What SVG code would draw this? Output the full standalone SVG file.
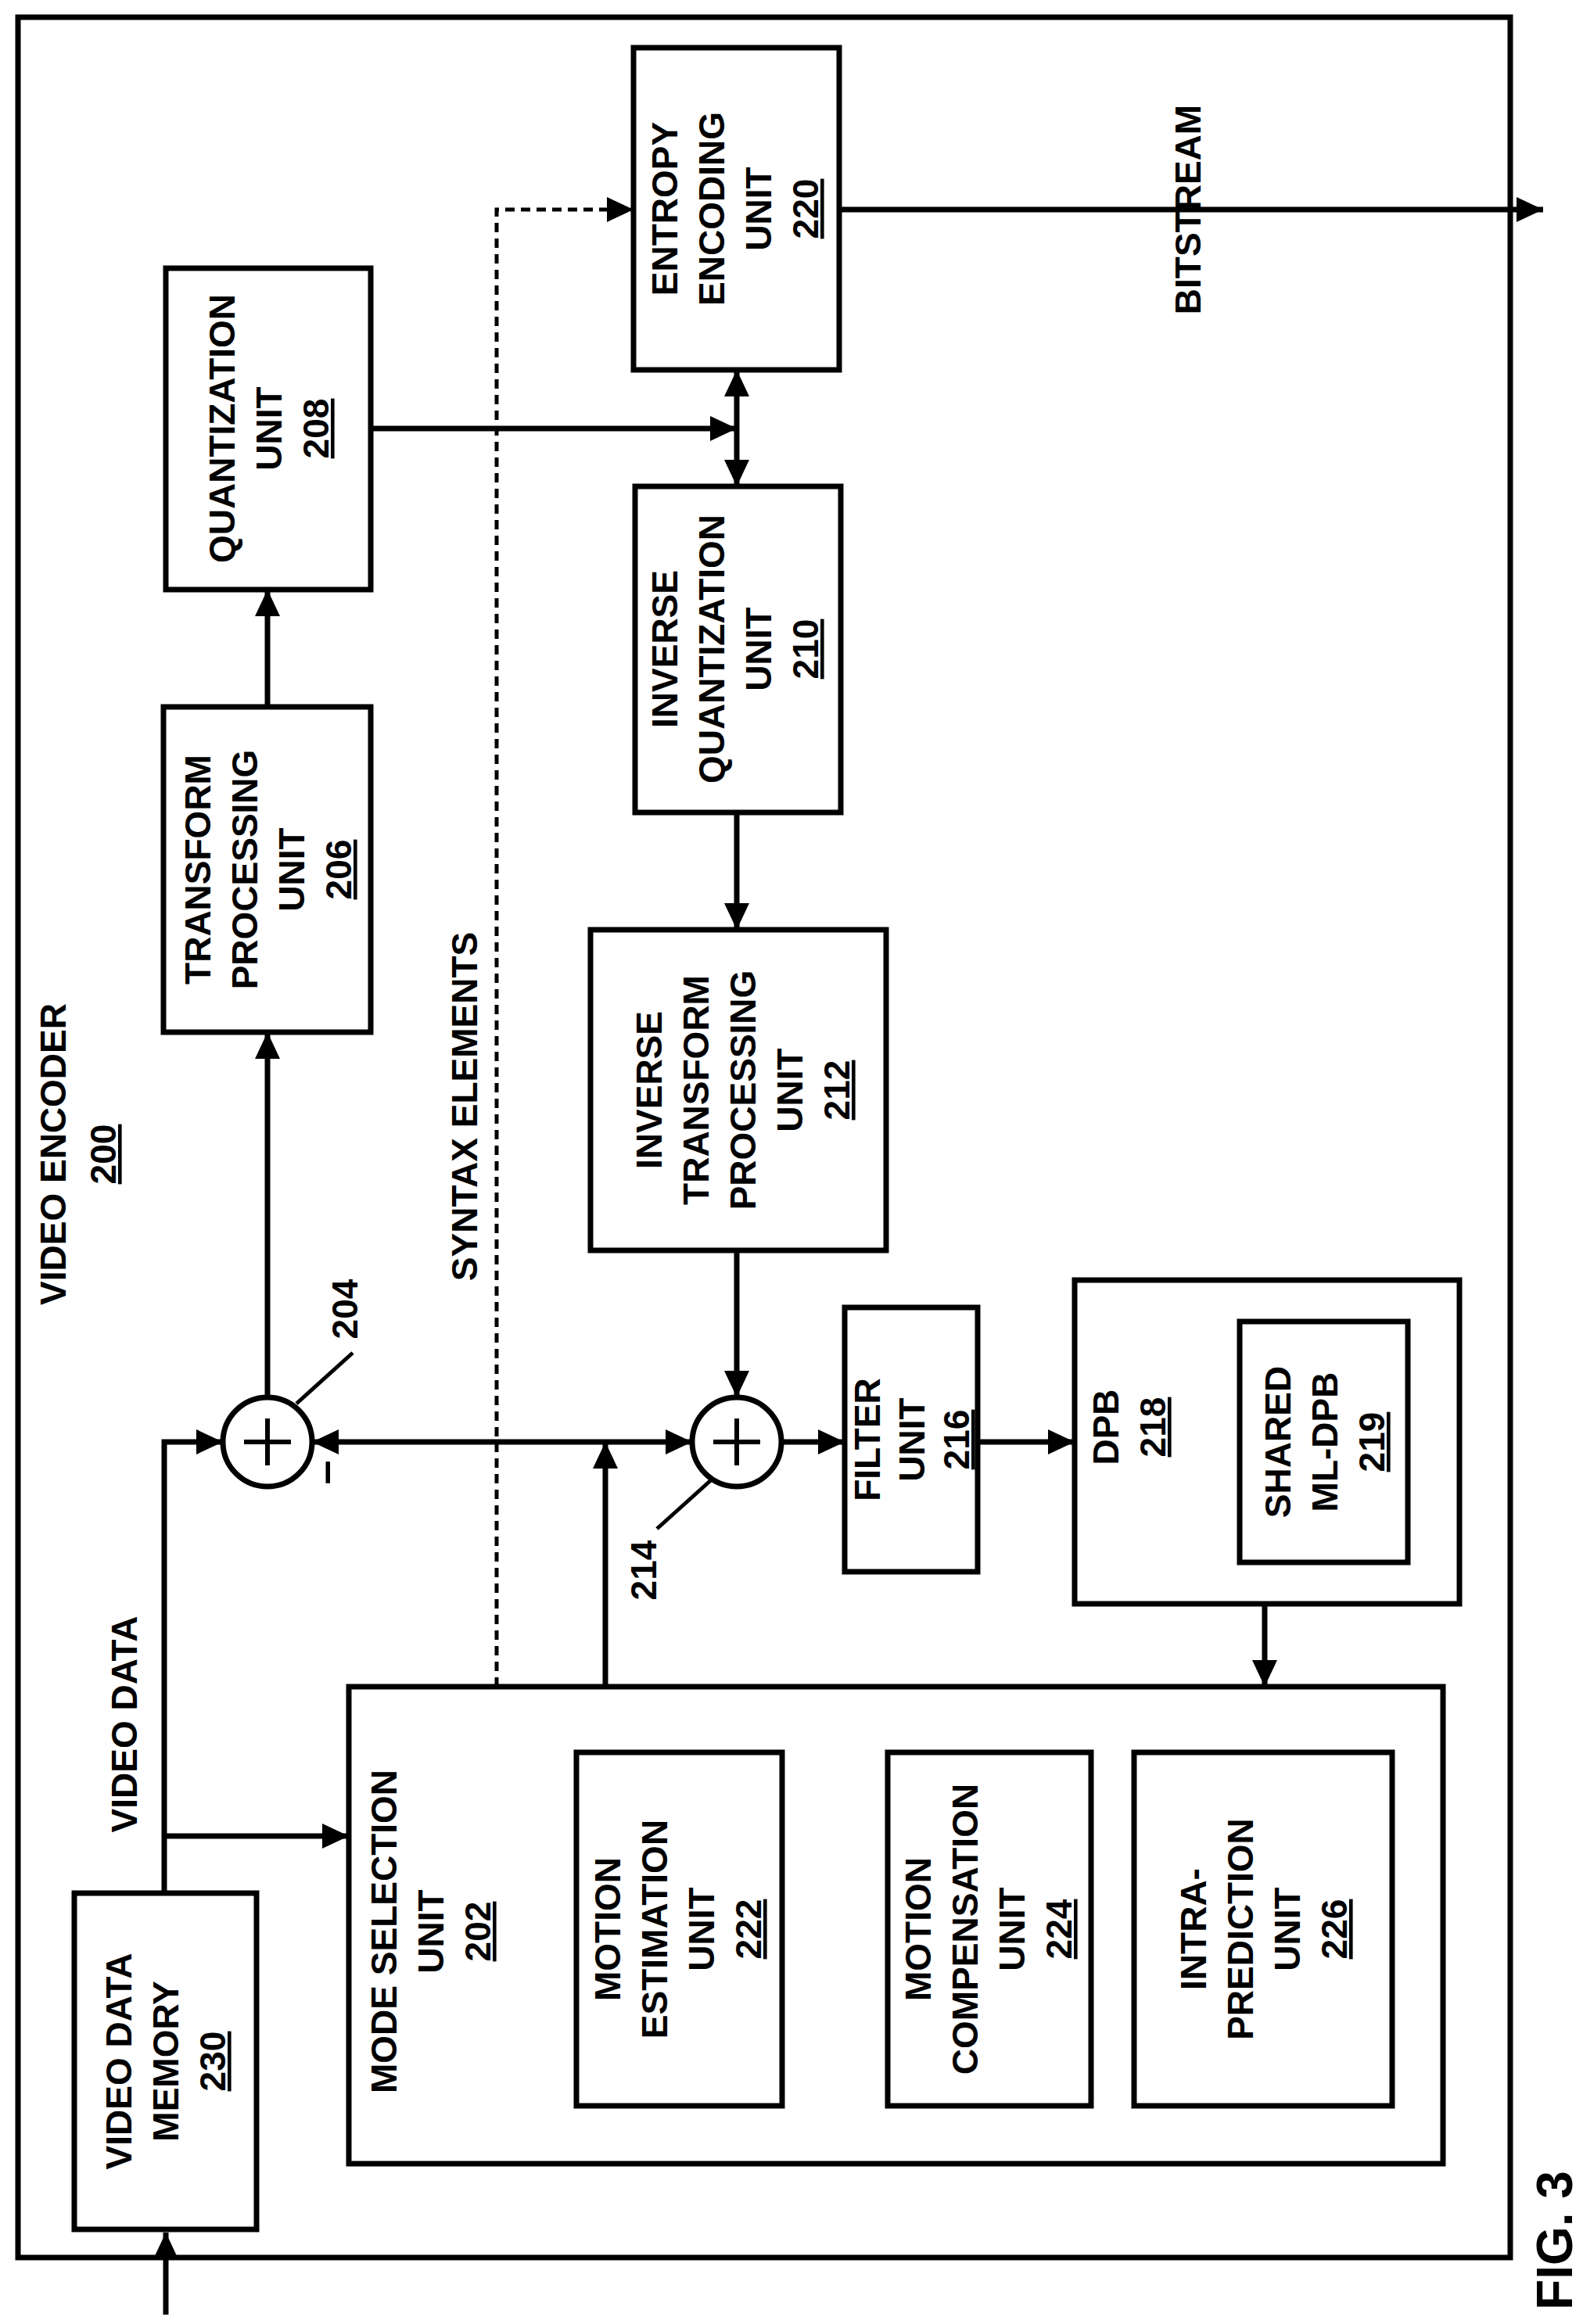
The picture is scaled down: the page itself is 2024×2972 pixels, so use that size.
<svg xmlns="http://www.w3.org/2000/svg" width="2024" height="2972" viewBox="0 0 2024 2972">
<defs>
<marker id="a" markerUnits="userSpaceOnUse" markerWidth="34" markerHeight="32" refX="34" refY="16" orient="auto-start-reverse"><path d="M0,0 L34,16 L0,32 Z" fill="#000"/></marker>
<style>
.b{fill:#fff;stroke:#000;stroke-width:7}
.l{fill:none;stroke:#000;stroke-width:7}
.d{fill:none;stroke:#000;stroke-width:5;stroke-dasharray:12,8}
text{font-family:"Liberation Sans",Arial,sans-serif;font-weight:bold;font-size:46px;text-anchor:middle}
.u{text-decoration:underline}
</style>
</defs>
<rect width="2024" height="2972" fill="#fff"/>
<rect x="23" y="22" width="1908" height="2865" class="l"/>
<g id="connectors">
<path class="l" d="M212,2960 V2855" marker-end="url(#a)"/>
<path class="l" d="M210,2421 V1844 H285" marker-end="url(#a)"/>
<path class="l" d="M210,2348 H446" marker-end="url(#a)"/>
<path class="l" d="M399,1844 H885" marker-start="url(#a)" marker-end="url(#a)"/>
<path class="l" d="M774,2157 V1844" marker-end="url(#a)"/>
<path class="l" d="M342,1787 V1320" marker-end="url(#a)"/>
<path class="l" d="M342,904 V754" marker-end="url(#a)"/>
<path class="l" d="M474,548 H942" marker-end="url(#a)"/>
<path class="l" d="M942,473 V622" marker-start="url(#a)" marker-end="url(#a)"/>
<path class="l" d="M942,1039 V1189" marker-end="url(#a)"/>
<path class="l" d="M942,1599 V1787" marker-end="url(#a)"/>
<path class="l" d="M999,1844 H1080" marker-end="url(#a)"/>
<path class="l" d="M1250,1844 H1374" marker-end="url(#a)"/>
<path class="l" d="M1617,2051 V2157" marker-end="url(#a)"/>
<path class="l" d="M1000,2468 H1135" marker-end="url(#a)"/>
<path class="l" d="M1073,268 H1973" marker-end="url(#a)"/>
<path class="d" d="M635,2157 V268 H810" marker-end="url(#a)"/>
<path class="l" d="M379,1795 L451,1730" style="stroke-width:5"/>
<path class="l" d="M910,1892 L840,1955" style="stroke-width:5"/>
</g>
<g id="sum204"><circle cx="342" cy="1844" r="57" class="b"/><path class="l" d="M312,1844 H372 M342,1814 V1874" style="stroke-width:6"/></g>
<g id="sum214"><circle cx="942" cy="1844" r="57" class="b"/><path class="l" d="M912,1844 H972 M942,1814 V1874" style="stroke-width:6"/></g>
<g id="labels">
<text transform="translate(0,1476) rotate(-90)"><tspan x="0" y="84">VIDEO ENCODER</tspan><tspan x="0" y="148" class="u">200</tspan></text>
<text transform="translate(0,1415) rotate(-90)" x="0" y="610">SYNTAX ELEMENTS</text>
<text transform="translate(0,2205) rotate(-90)" x="0" y="175">VIDEO DATA</text>
<text transform="translate(0,268) rotate(-90)" x="0" y="1535">BITSTREAM</text>
<text transform="translate(0,1674) rotate(-90)" x="0" y="457">204</text>
<text transform="translate(0,2008) rotate(-90)" x="0" y="839">214</text>
<text transform="translate(0,1883) rotate(-90)" x="0" y="434" style="font-size:56px">–</text>
<text transform="translate(0,2865) rotate(-90)" x="0" y="2010" style="font-size:64px">FIG. 3</text>
</g>
<g id="n220"><rect x="810" y="61" width="263" height="412" class="b"/><text transform="translate(0,267) rotate(-90)"><tspan x="0" y="866">ENTROPY</tspan><tspan x="0" y="926">ENCODING</tspan><tspan x="0" y="986">UNIT</tspan><tspan x="0" y="1046" class="u">220</tspan></text></g>
<g id="n208"><rect x="212" y="343" width="262" height="411" class="b"/><text transform="translate(0,548) rotate(-90)"><tspan x="0" y="300">QUANTIZATION</tspan><tspan x="0" y="360">UNIT</tspan><tspan x="0" y="420" class="u">208</tspan></text></g>
<g id="n210"><rect x="812" y="622" width="263" height="417" class="b"/><text transform="translate(0,830) rotate(-90)"><tspan x="0" y="866">INVERSE</tspan><tspan x="0" y="926">QUANTIZATION</tspan><tspan x="0" y="986">UNIT</tspan><tspan x="0" y="1046" class="u">210</tspan></text></g>
<g id="n206"><rect x="209" y="904" width="265" height="416" class="b"/><text transform="translate(0,1112) rotate(-90)"><tspan x="0" y="269">TRANSFORM</tspan><tspan x="0" y="329">PROCESSING</tspan><tspan x="0" y="389">UNIT</tspan><tspan x="0" y="449" class="u">206</tspan></text></g>
<g id="n212"><rect x="755" y="1189" width="378" height="410" class="b"/><text transform="translate(0,1394) rotate(-90)"><tspan x="0" y="846">INVERSE</tspan><tspan x="0" y="906">TRANSFORM</tspan><tspan x="0" y="966">PROCESSING</tspan><tspan x="0" y="1026">UNIT</tspan><tspan x="0" y="1086" class="u">212</tspan></text></g>
<g id="n216"><rect x="1080" y="1672" width="170" height="338" class="b"/><text transform="translate(0,1841) rotate(-90)"><tspan x="0" y="1125">FILTER</tspan><tspan x="0" y="1182">UNIT</tspan><tspan x="0" y="1239" class="u">216</tspan></text></g>
<g id="n218"><rect x="1374" y="1637" width="492" height="414" class="b"/><text transform="translate(0,1825) rotate(-90)"><tspan x="0" y="1430">DPB</tspan><tspan x="0" y="1490" class="u">218</tspan></text>
<rect x="1585" y="1690" width="215" height="308" class="b"/><text transform="translate(0,1844) rotate(-90)"><tspan x="0" y="1650">SHARED</tspan><tspan x="0" y="1710">ML-DPB</tspan><tspan x="0" y="1770" class="u">219</tspan></text></g>
<g id="n202"><rect x="446" y="2157" width="1399" height="610" class="b"/><text transform="translate(0,2470) rotate(-90)"><tspan x="0" y="507">MODE SELECTION</tspan><tspan x="0" y="567">UNIT</tspan><tspan x="0" y="627" class="u">202</tspan></text></g>
<g id="n222"><rect x="737" y="2241" width="263" height="452" class="b"/><text transform="translate(0,2467) rotate(-90)"><tspan x="0" y="793">MOTION</tspan><tspan x="0" y="853">ESTIMATION</tspan><tspan x="0" y="913">UNIT</tspan><tspan x="0" y="973" class="u">222</tspan></text></g>
<g id="n224"><rect x="1135" y="2241" width="260" height="452" class="b"/><text transform="translate(0,2467) rotate(-90)"><tspan x="0" y="1190">MOTION</tspan><tspan x="0" y="1250">COMPENSATION</tspan><tspan x="0" y="1310">UNIT</tspan><tspan x="0" y="1370" class="u">224</tspan></text></g>
<g id="n226"><rect x="1450" y="2241" width="330" height="452" class="b"/><text transform="translate(0,2467) rotate(-90)"><tspan x="0" y="1542">INTRA-</tspan><tspan x="0" y="1602">PREDICTION</tspan><tspan x="0" y="1662">UNIT</tspan><tspan x="0" y="1722" class="u">226</tspan></text></g>
<g id="n230"><rect x="95" y="2421" width="233" height="430" class="b"/><text transform="translate(0,2636) rotate(-90)"><tspan x="0" y="168">VIDEO DATA</tspan><tspan x="0" y="228">MEMORY</tspan><tspan x="0" y="288" class="u">230</tspan></text></g>
</svg>
